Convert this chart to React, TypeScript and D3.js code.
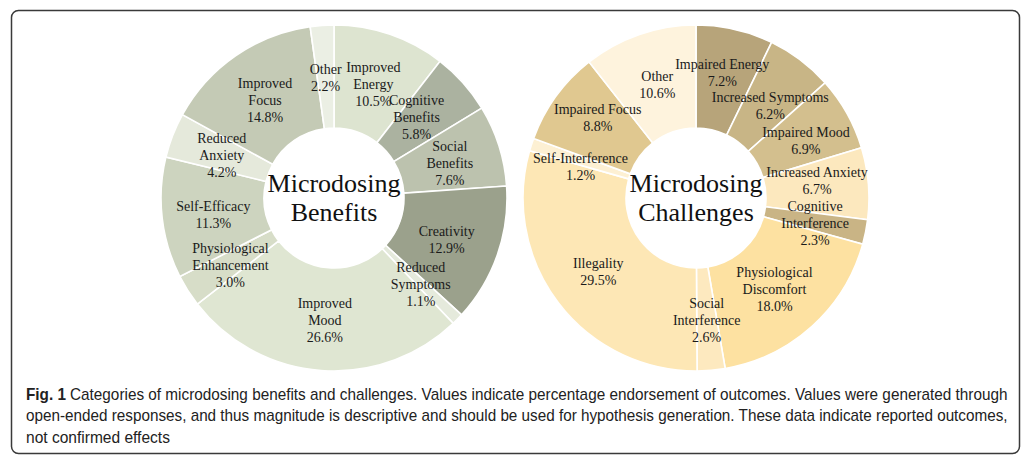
import React, { useEffect, useRef, useState } from "react";
import * as d3 from "d3";

// Benefits donut (clockwise from 12 o'clock)
const benefitNames = [
  "Improved\nEnergy", "Cognitive\nBenefits", "Social\nBenefits", "Creativity", "Reduced\nSymptoms",
  "Improved\nMood", "Physiological\nEnhancement", "Self-Efficacy", "Reduced\nAnxiety", "Improved\nFocus", "Other",
];
const benefitValues = [10.5, 5.8, 7.6, 12.9, 1.1, 26.6, 3.0, 11.3, 4.2, 14.8, 2.2];
const benefitColors = [
  "#dde4d0", "#abb2a0", "#bcc2ae", "#9ba18c", "#e5eadc",
  "#dfe6d2", "#d7ddc8", "#cdd4bf", "#e5e9db", "#c4cab5", "#ebefe4",
];
const benefitLabelShift = [[0, 1], [-8, 0], [0, 2], [-2, 1], [0, 1], [0, 1], [-1, 2], [0, 2], [1, 1], [0, 2], [0, 1]];

// Challenges donut (clockwise from 12 o'clock)
const challengeNames = [
  "Impaired Energy", "Increased Symptoms", "Impaired Mood", "Increased Anxiety", "Cognitive\nInterference",
  "Physiological\nDiscomfort", "Social\nInterference", "Illegality", "Self-Interference", "Impaired Focus", "Other",
];
const challengeValues = [7.2, 6.2, 6.9, 6.7, 2.3, 18.0, 2.6, 29.5, 1.2, 8.8, 10.6];
const challengeColors = [
  "#b7a47a", "#c8b586", "#d3bf8e", "#fce8be", "#c9b485",
  "#fde1a1", "#fde9bf", "#fde7b5", "#fdf0d3", "#e0c890", "#fef3dd",
];
const challengeLabelShift = [[-1, -7], [1, 4], [4, 2], [0, -7], [0, 1], [-3, 1], [0, 1], [-1, 0], [0, 6], [0, -9], [1, 1]];

const captionLines = [
  "Categories of microdosing benefits and challenges. Values indicate percentage endorsement of outcomes. Values were generated through",
  "open-ended responses, and thus magnitude is descriptive and should be used for hypothesis generation. These data indicate reported outcomes,",
  "not confirmed effects",
];

const W = 1028;
const H = 465;
const R_OUT = 173;
const R_IN = 70;
const R_LABEL = 121.5;
const LINE = 17;

type DonutProps = {
  cx: number; cy: number; names: string[]; values: number[]; colors: string[];
  shifts: number[][]; title: string[];
};

function Donut({ cx, cy, names, values, colors, shifts, title }: DonutProps) {
  const pie = d3.pie<number>().sort(null).startAngle(0).endAngle(2 * Math.PI);
  const arcs = pie(values);
  const arc = d3.arc<d3.PieArcDatum<number>>().innerRadius(R_IN).outerRadius(R_OUT);
  const labelArc = d3.arc<d3.PieArcDatum<number>>().innerRadius(R_LABEL).outerRadius(R_LABEL);
  const fmt = d3.format(".1f");
  return (
    <g transform={`translate(${cx},${cy})`}>
      {arcs.map((a, i) => (
        <path key={"s" + i} d={arc(a) || ""} fill={colors[i]} stroke="#ffffff" strokeWidth={1.6} />
      ))}
      {arcs.map((a, i) => {
        const [x, y] = labelArc.centroid(a);
        const lines = [...names[i].split("\n"), fmt(values[i]) + "%"];
        const lx = x + shifts[i][0];
        const ly = y + shifts[i][1];
        const top = ly - ((lines.length - 1) * LINE) / 2 + 5;
        return (
          <text key={"l" + i} textAnchor="middle" fontFamily="'Liberation Serif', 'Times New Roman', serif" fontSize={14} fill="#1a1a1a">
            {lines.map((t, j) => (
              <tspan key={j} x={lx} y={top + j * LINE}>{t}</tspan>
            ))}
          </text>
        );
      })}
      <text textAnchor="middle" fontFamily="'Liberation Serif', 'Times New Roman', serif" fontSize={26} fill="#111">
        <tspan x={0} y={-6}>{title[0]}</tspan>
        <tspan x={0} y={23}>{title[1]}</tspan>
      </text>
    </g>
  );
}

const capFont = "'Liberation Sans Narrow', 'Arial Narrow', 'Liberation Sans', sans-serif";

function FitText({ x, y, width, bold, children }: { x: number; y: number; width: number; bold?: boolean; children: string }) {
  const ref = useRef<SVGTextElement>(null);
  const [sx, setSx] = useState(1);
  useEffect(() => {
    if (ref.current) {
      const n = ref.current.getComputedTextLength();
      if (n > 0) setSx(width / n);
    }
  }, [width, children]);
  return (
    <g transform={`translate(${x},${y}) scale(${sx},1)`}>
      <text ref={ref} x={0} y={0} fontFamily={capFont} fontSize={16} fontWeight={bold ? "bold" : "normal"} fill="#222">
        {children}
      </text>
    </g>
  );
}

export default function App() {
  return (
    <svg width={W} height={H} viewBox={`0 0 ${W} ${H}`} style={{ position: "absolute", left: 0, top: 0, background: "#fff" }}>
      <rect x={0} y={0} width={W} height={H} fill="#fff" />
      <rect x={11.5} y={10.5} width={1008} height={443} rx={7} ry={7} fill="none" stroke="#3a3a3a" strokeWidth={1.5} />
      <Donut cx={334} cy={198} names={benefitNames} values={benefitValues} colors={benefitColors}
        shifts={benefitLabelShift} title={["Microdosing", "Benefits"]} />
      <Donut cx={696} cy={198} names={challengeNames} values={challengeValues} colors={challengeColors}
        shifts={challengeLabelShift} title={["Microdosing", "Challenges"]} />
      <FitText x={26} y={399.5} width={40} bold>Fig. 1</FitText>
      <FitText x={70} y={399.5} width={938}>{captionLines[0]}</FitText>
      <FitText x={26} y={421} width={983}>{captionLines[1]}</FitText>
      <FitText x={26} y={442.5} width={144}>{captionLines[2]}</FitText>
    </svg>
  );
}
